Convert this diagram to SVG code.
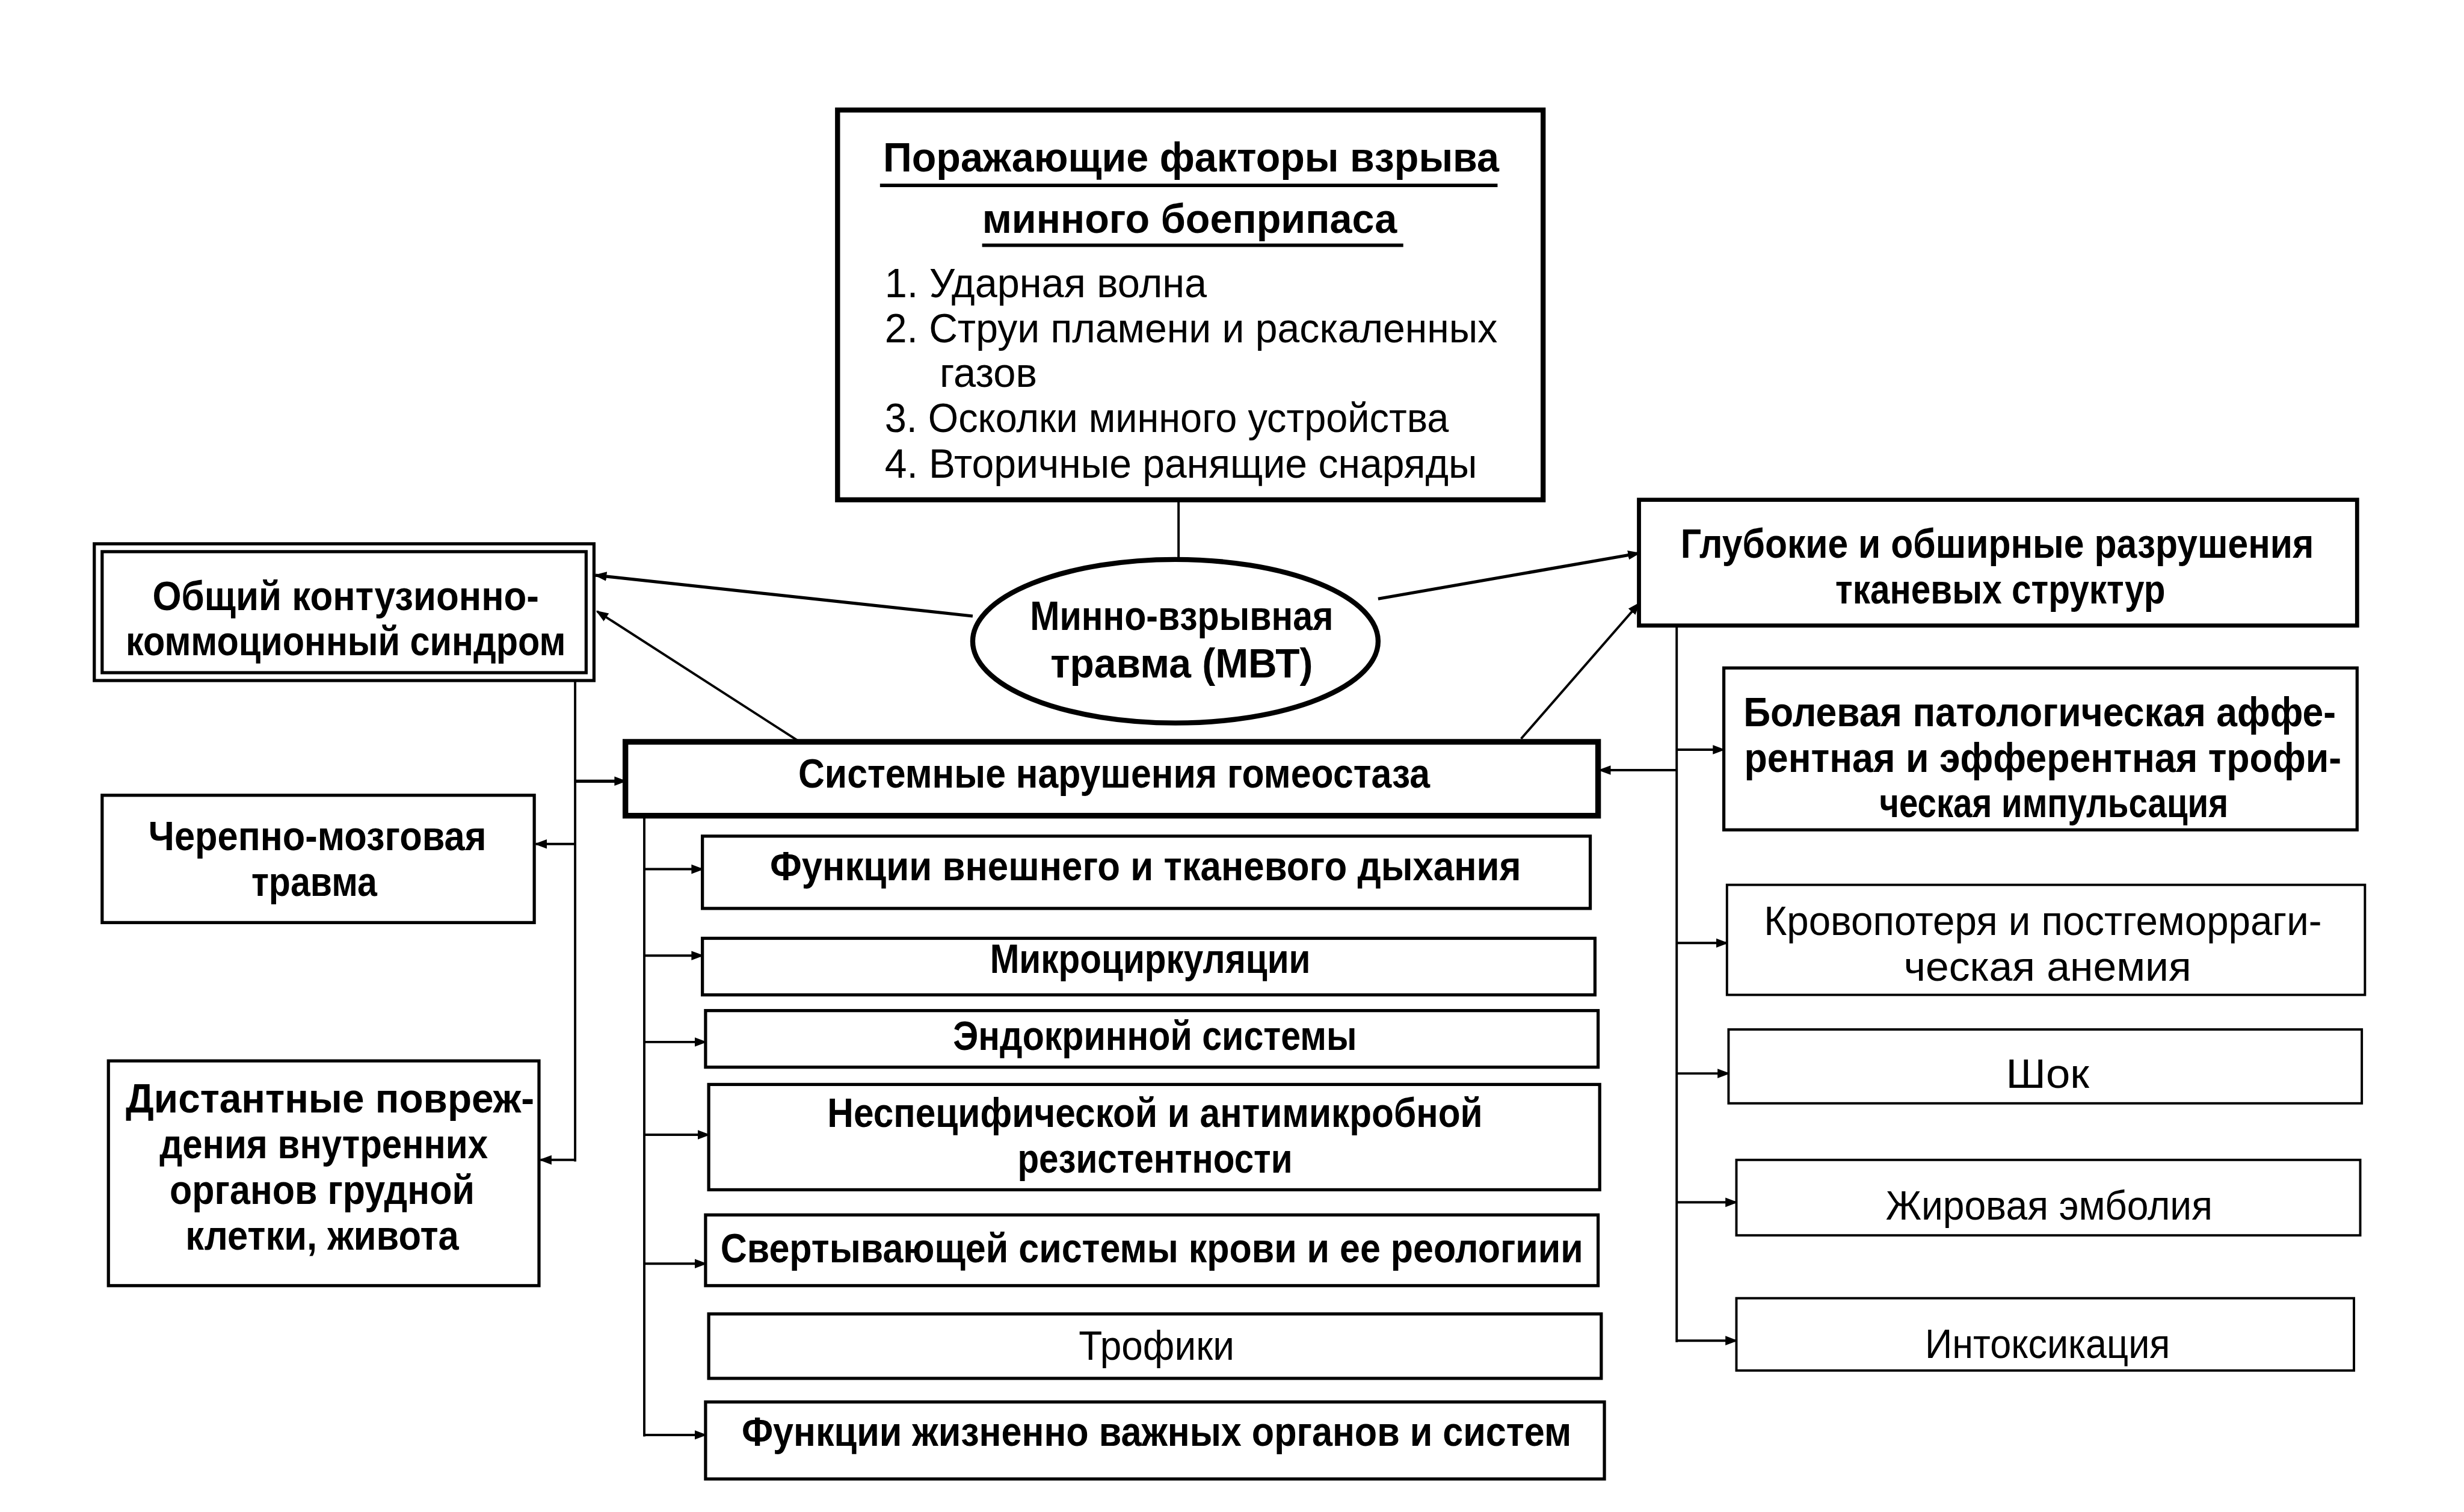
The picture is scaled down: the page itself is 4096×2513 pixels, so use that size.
<svg xmlns="http://www.w3.org/2000/svg" width="4096" height="2513" viewBox="0 0 4096 2513">
<defs>
<style>
.t{font-family:"Liberation Sans",Arial,sans-serif;font-size:26px;fill:#000;text-anchor:middle}
.l{text-anchor:start}
.b{font-weight:bold}
.box{fill:#fff;stroke:#000;stroke-width:2}
.thick{stroke-width:3.2}
.thin{stroke-width:1.5}
.c{fill:none;stroke:#000;stroke-width:1.5}
</style>
<marker id="ah" markerUnits="userSpaceOnUse" markerWidth="8" markerHeight="7" refX="7" refY="3.5" orient="auto">
<path d="M0,0.5 L8,3.5 L0,6.5 Z" fill="#000"/>
</marker>
</defs>
<rect width="4096" height="2513" fill="#fff"/>
<g transform="scale(2.6122)">
<g id="connectors">
<line class="c" x1="750" y1="318" x2="750" y2="357"/>
<line class="c" x1="619" y1="392" x2="379" y2="366" marker-end="url(#ah)" style="stroke-width:2"/>
<line class="c" x1="512" y1="474" x2="380" y2="389" marker-end="url(#ah)"/>
<line class="c" x1="877" y1="381" x2="1043" y2="352" marker-end="url(#ah)" style="stroke-width:2"/>
<line class="c" x1="968" y1="470" x2="1043" y2="384" marker-end="url(#ah)"/>
<line class="c" x1="366" y1="433" x2="366" y2="739"/>
<line class="c" x1="366" y1="497" x2="398" y2="497" marker-end="url(#ah)" style="stroke-width:2"/>
<line class="c" x1="366" y1="537" x2="341" y2="537" marker-end="url(#ah)"/>
<line class="c" x1="366" y1="738" x2="344" y2="738" marker-end="url(#ah)"/>
<line class="c" x1="410" y1="519" x2="410" y2="914"/>
<line class="c" x1="410" y1="553" x2="447" y2="553" marker-end="url(#ah)"/>
<line class="c" x1="410" y1="608" x2="447" y2="608" marker-end="url(#ah)"/>
<line class="c" x1="410" y1="663" x2="449" y2="663" marker-end="url(#ah)"/>
<line class="c" x1="410" y1="722" x2="451" y2="722" marker-end="url(#ah)"/>
<line class="c" x1="410" y1="804" x2="449" y2="804" marker-end="url(#ah)"/>
<line class="c" x1="410" y1="913" x2="449" y2="913" marker-end="url(#ah)"/>
<line class="c" x1="1067" y1="490" x2="1018" y2="490" marker-end="url(#ah)"/>
<line class="c" x1="1067" y1="398" x2="1067" y2="854"/>
<line class="c" x1="1067" y1="477" x2="1097" y2="477" marker-end="url(#ah)"/>
<line class="c" x1="1067" y1="600" x2="1099" y2="600" marker-end="url(#ah)"/>
<line class="c" x1="1067" y1="683" x2="1100" y2="683" marker-end="url(#ah)"/>
<line class="c" x1="1067" y1="765" x2="1105" y2="765" marker-end="url(#ah)"/>
<line class="c" x1="1067" y1="853" x2="1105" y2="853" marker-end="url(#ah)"/>
</g>
<g id="n-factors">
<rect class="box thick" x="533" y="70" width="449" height="248"/>
<text class="t b" x="758" y="109" textLength="392" lengthAdjust="spacingAndGlyphs">Поражающие факторы взрыва</text>
<line x1="560" y1="118" x2="953" y2="118" stroke="#000" stroke-width="2.2"/>
<text class="t b" x="757" y="148" textLength="264" lengthAdjust="spacingAndGlyphs">минного боеприпаса</text>
<line x1="625" y1="156" x2="893" y2="156" stroke="#000" stroke-width="2.2"/>
<text class="t l" x="563" y="189" textLength="205" lengthAdjust="spacingAndGlyphs">1. Ударная волна</text>
<text class="t l" x="563" y="218" textLength="390" lengthAdjust="spacingAndGlyphs">2. Струи пламени и раскаленных</text>
<text class="t l" x="598" y="246" textLength="62" lengthAdjust="spacingAndGlyphs">газов</text>
<text class="t l" x="563" y="275" textLength="359" lengthAdjust="spacingAndGlyphs">3. Осколки минного устройства</text>
<text class="t l" x="563" y="304" textLength="377" lengthAdjust="spacingAndGlyphs">4. Вторичные ранящие снаряды</text>
</g>
<g id="n-mvt">
<ellipse cx="748" cy="408" rx="129" ry="52" fill="#fff" stroke="#000" stroke-width="3.2"/>
<text class="t b" x="752" y="401" textLength="193" lengthAdjust="spacingAndGlyphs">Минно-взрывная</text>
<text class="t b" x="752" y="431" textLength="167" lengthAdjust="spacingAndGlyphs">травма  (МВТ)</text>
</g>
<g id="n-contusion">
<rect class="box" x="60" y="346" width="318" height="87"/>
<rect class="box" x="65" y="351" width="308" height="77"/>
<text class="t b" x="220" y="388" textLength="246" lengthAdjust="spacingAndGlyphs">Общий контузионно-</text>
<text class="t b" x="220" y="417" textLength="280" lengthAdjust="spacingAndGlyphs">коммоционный синдром</text>
</g>
<g id="n-destruction">
<rect class="box" x="1043" y="318" width="457" height="80" style="stroke-width:2.6"/>
<text class="t b" x="1271" y="355" textLength="403" lengthAdjust="spacingAndGlyphs">Глубокие и обширные разрушения</text>
<text class="t b" x="1273" y="384" textLength="210" lengthAdjust="spacingAndGlyphs">тканевых структур</text>
</g>
<g id="n-systemic">
<rect class="box" x="398" y="472" width="619" height="47" style="stroke-width:3.6"/>
<text class="t b" x="709" y="501" textLength="402" lengthAdjust="spacingAndGlyphs">Системные нарушения гомеостаза</text>
</g>
<g id="n-tbi">
<rect class="box" x="65" y="506" width="275" height="81"/>
<text class="t b" x="202" y="541" textLength="215" lengthAdjust="spacingAndGlyphs">Черепно-мозговая</text>
<text class="t b" x="200" y="570" textLength="80" lengthAdjust="spacingAndGlyphs">травма</text>
</g>
<g id="n-distant">
<rect class="box" x="69" y="675" width="274" height="143"/>
<text class="t b" x="210" y="708" textLength="260" lengthAdjust="spacingAndGlyphs">Дистантные повреж-</text>
<text class="t b" x="206" y="737" textLength="209" lengthAdjust="spacingAndGlyphs">дения внутренних</text>
<text class="t b" x="205" y="766" textLength="194" lengthAdjust="spacingAndGlyphs">органов грудной</text>
<text class="t b" x="205" y="795" textLength="174" lengthAdjust="spacingAndGlyphs">клетки, живота</text>
</g>
<g id="n-breathing">
<rect class="box" x="447" y="532" width="565" height="46"/>
<text class="t b" x="729" y="560" textLength="478" lengthAdjust="spacingAndGlyphs">Функции внешнего и тканевого дыхания</text>
</g>
<g id="n-micro">
<rect class="box" x="447" y="597" width="568" height="36"/>
<text class="t b" x="732" y="619" textLength="204" lengthAdjust="spacingAndGlyphs">Микроциркуляции</text>
</g>
<g id="n-endo">
<rect class="box" x="449" y="643" width="568" height="36"/>
<text class="t b" x="735" y="668" textLength="257" lengthAdjust="spacingAndGlyphs">Эндокринной системы</text>
</g>
<g id="n-resist">
<rect class="box" x="451" y="690" width="567" height="67"/>
<text class="t b" x="735" y="717" textLength="417" lengthAdjust="spacingAndGlyphs">Неспецифической и антимикробной</text>
<text class="t b" x="735" y="746" textLength="175" lengthAdjust="spacingAndGlyphs">резистентности</text>
</g>
<g id="n-coag">
<rect class="box" x="449" y="773" width="568" height="45"/>
<text class="t b" x="733" y="803" textLength="549" lengthAdjust="spacingAndGlyphs">Свертывающей системы крови и ее реологиии</text>
</g>
<g id="n-trophic">
<rect class="box" x="451" y="836" width="568" height="41"/>
<text class="t" x="736" y="865" textLength="99" lengthAdjust="spacingAndGlyphs">Трофики</text>
</g>
<g id="n-vital">
<rect class="box" x="449" y="892" width="572" height="49"/>
<text class="t b" x="736" y="920" textLength="528" lengthAdjust="spacingAndGlyphs">Функции жизненно важных органов и систем</text>
</g>
<g id="n-pain">
<rect class="box" x="1097" y="425" width="403" height="103"/>
<text class="t b" x="1298" y="462" textLength="377" lengthAdjust="spacingAndGlyphs">Болевая патологическая аффе-</text>
<text class="t b" x="1300" y="491" textLength="380" lengthAdjust="spacingAndGlyphs">рентная и эфферентная трофи-</text>
<text class="t b" x="1307" y="520" textLength="222" lengthAdjust="spacingAndGlyphs">ческая импульсация</text>
</g>
<g id="n-bloodloss">
<rect class="box thin" x="1099" y="563" width="406" height="70"/>
<text class="t" x="1300" y="595" textLength="355" lengthAdjust="spacingAndGlyphs">Кровопотеря и постгеморраги-</text>
<text class="t" x="1303" y="624" textLength="183" lengthAdjust="spacingAndGlyphs">ческая  анемия</text>
</g>
<g id="n-shock">
<rect class="box thin" x="1100" y="655" width="403" height="47"/>
<text class="t" x="1303" y="692" textLength="53" lengthAdjust="spacingAndGlyphs">Шок</text>
</g>
<g id="n-fat">
<rect class="box thin" x="1105" y="738" width="397" height="48"/>
<text class="t" x="1304" y="776" textLength="208" lengthAdjust="spacingAndGlyphs">Жировая эмболия</text>
</g>
<g id="n-intox">
<rect class="box thin" x="1105" y="826" width="393" height="46"/>
<text class="t" x="1303" y="864" textLength="156" lengthAdjust="spacingAndGlyphs">Интоксикация</text>
</g>
</g>
</svg>
